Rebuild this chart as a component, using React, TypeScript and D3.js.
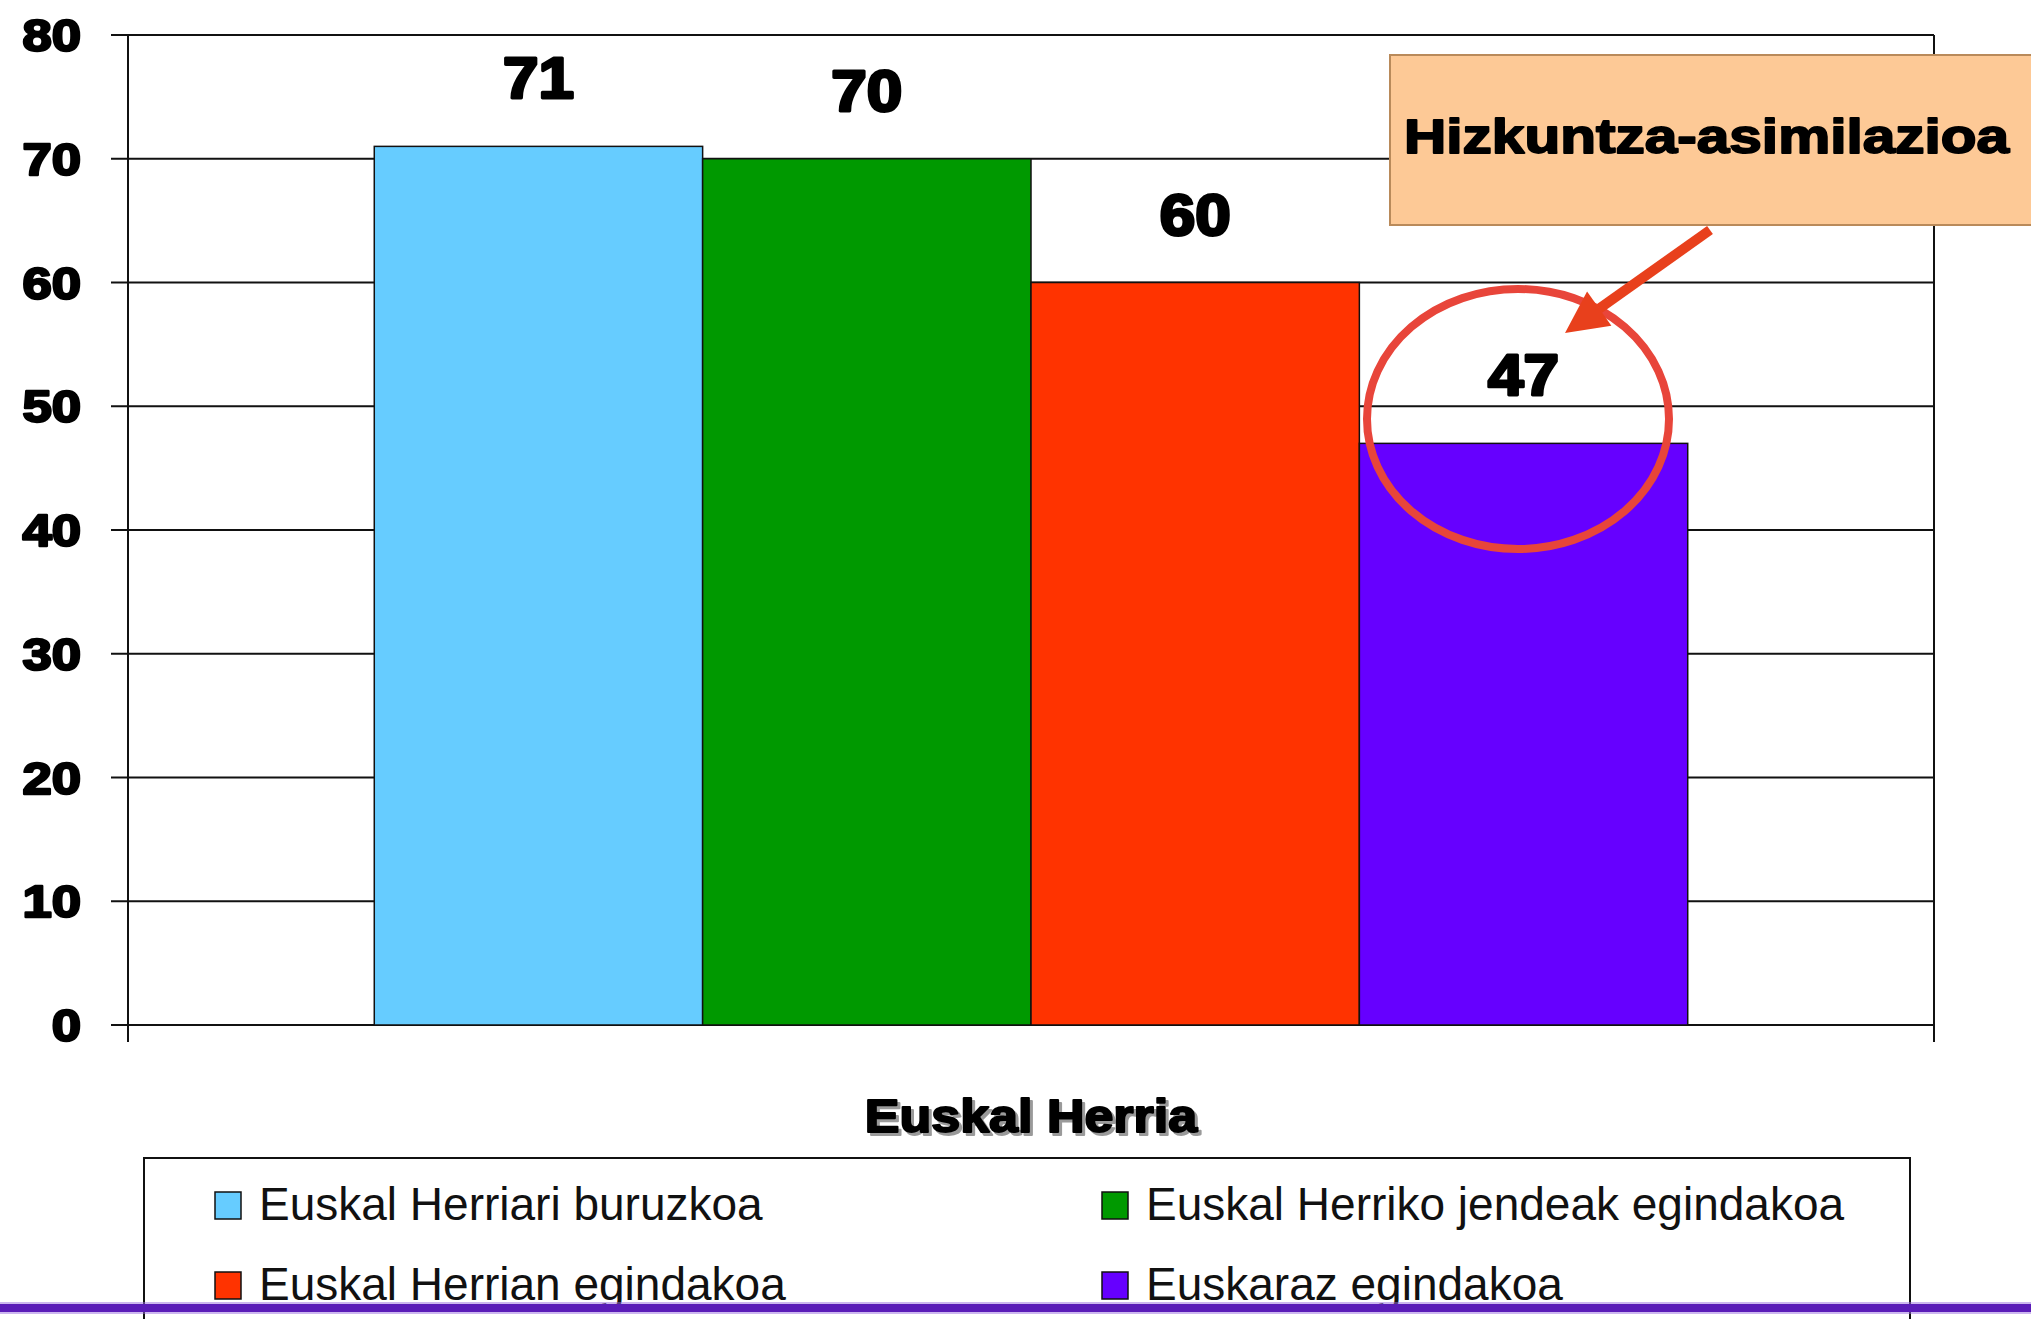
import React from 'react';
import * as d3 from 'd3';

const categories = ['Euskal Herria'];
const seriesNames = [
  'Euskal Herriari buruzkoa',
  'Euskal Herriko jendeak egindakoa',
  'Euskal Herrian egindakoa',
  'Euskaraz egindakoa',
];
const seriesValues = [71, 70, 60, 47];
const seriesColors = ['#66CCFF', '#009900', '#FF3300', '#6600FF'];
const yTicks = [0, 10, 20, 30, 40, 50, 60, 70, 80];
const calloutText = 'Hizkuntza-asimilazioa';

const W = 2031;
const H = 1319;
const BOLD = '"Liberation Sans", Arial, sans-serif';

// heavy text: Arial Black look imitated with a stretched, stroked bold face
const Heavy: React.FC<{
  x: number; y: number; size: number; sx: number; anchor?: 'start' | 'middle' | 'end';
  children: React.ReactNode; fill?: string; stroke?: number;
}> = ({ x, y, size, sx, anchor = 'middle', children, fill = '#000', stroke = 1.4 }) => (
  <text
    transform={`translate(${x},${y}) scale(${sx},1)`}
    textAnchor={anchor}
    fontFamily={BOLD}
    fontWeight="bold"
    fontSize={size}
    fill={fill}
    stroke={fill}
    strokeWidth={stroke}
    strokeLinejoin="round"
  >
    {children}
  </text>
);

const App: React.FC = () => {
  const plot = { left: 128, right: 1934, top: 35, bottom: 1025 };

  const y = d3.scaleLinear().domain([0, 80]).range([plot.bottom, plot.top]);
  const x0 = d3.scaleBand().domain(categories).range([plot.left, plot.right]).padding(0);
  const x1 = d3.scaleBand()
    .domain(seriesNames)
    .range([0, x0.bandwidth()])
    .paddingInner(0)
    .paddingOuter(0.75);

  // callout arrow geometry
  const arrowFrom = { x: 1710, y: 230 };
  const arrowTo = { x: 1565, y: 333 };
  const ang = Math.atan2(arrowTo.y - arrowFrom.y, arrowTo.x - arrowFrom.x);
  const headLen = 42;
  const headHalf = 21;
  const bx = arrowTo.x - headLen * Math.cos(ang);
  const by = arrowTo.y - headLen * Math.sin(ang);
  const px = -Math.sin(ang) * headHalf;
  const py = Math.cos(ang) * headHalf;

  const legendCols = [215, 1102];
  const legendRows = [1220, 1300];

  return (
    <svg
      width={W}
      height={H}
      style={{ position: 'absolute', left: 0, top: 0, display: 'block', background: '#fff' }}
    >
      {/* gridlines */}
      {yTicks.map(t => (
        <line key={t} x1={plot.left - 17} x2={plot.right} y1={y(t)} y2={y(t)} stroke="#111" strokeWidth={2} />
      ))}
      {/* y axis */}
      <line x1={plot.left} x2={plot.left} y1={plot.top} y2={plot.bottom + 17} stroke="#111" strokeWidth={2} />
      <line x1={plot.right} x2={plot.right} y1={plot.top} y2={plot.bottom + 17} stroke="#111" strokeWidth={2} />
      {yTicks.map(t => (
        <Heavy key={t} x={81} y={y(t) + 16} size={45} sx={1.17} anchor="end" stroke={2.4}>{t}</Heavy>
      ))}

      {/* bars */}
      {categories.map(c => (
        <g key={c} transform={`translate(${x0(c)},0)`}>
          {seriesNames.map((s, i) => (
            <rect
              key={s}
              x={x1(s)}
              y={y(seriesValues[i])}
              width={x1.bandwidth()}
              height={y(0) - y(seriesValues[i])}
              fill={seriesColors[i]}
              stroke="#111"
              strokeWidth={1.5}
            />
          ))}
          {seriesNames.map((s, i) => (
            <Heavy key={s} x={(x1(s) || 0) + x1.bandwidth() / 2} y={y(seriesValues[i]) - 48} size={57} sx={1.12} stroke={3}>
              {seriesValues[i]}
            </Heavy>
          ))}
        </g>
      ))}

      {/* category title with shadow */}
      <Heavy x={1031 + 3} y={1132 + 3} size={46} sx={1.13} fill="#9a9a9a" stroke={2}>{categories[0]}</Heavy>
      <Heavy x={1031} y={1132} size={46} sx={1.13} stroke={2}>{categories[0]}</Heavy>

      {/* legend */}
      <rect x={144} y={1158} width={1766} height={200} fill="#fff" stroke="#111" strokeWidth={2} />
      {seriesNames.map((s, i) => {
        const lx = legendCols[i % 2];
        const ly = legendRows[Math.floor(i / 2)];
        return (
          <g key={s}>
            <rect x={lx} y={ly - 28} width={26} height={27} fill={seriesColors[i]} stroke="#111" strokeWidth={1.5} />
            <text x={lx + 44} y={ly} fontFamily={BOLD} fontSize={46} fill="#111">{s}</text>
          </g>
        );
      })}

      {/* callout */}
      <rect x={1390} y={55} width={700} height={170} fill="#FDC996" stroke="#B98A5A" strokeWidth={2} />
      <Heavy x={1404} y={153} size={48} sx={1.22} anchor="start" stroke={1.8}>{calloutText}</Heavy>
      <ellipse cx={1518} cy={419} rx={151} ry={130} fill="none" stroke="#E8453A" strokeWidth={8} />
      <line x1={arrowFrom.x} y1={arrowFrom.y} x2={bx} y2={by} stroke="#E8401C" strokeWidth={10} />
      <polygon
        points={`${arrowTo.x},${arrowTo.y} ${bx + px},${by + py} ${bx - px},${by - py}`}
        fill="#E8401C"
      />

      {/* slide rule */}
      <rect x={0} y={1302} width={W} height={12} fill="#9a6fe0" opacity={0.5} />
      <rect x={0} y={1304} width={W} height={8} fill="#5a1cb8" />
    </svg>
  );
};

export default App;
